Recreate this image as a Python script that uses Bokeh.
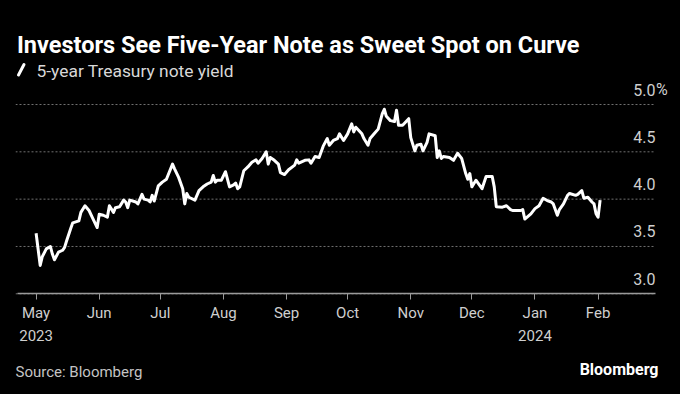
import pandas as pd
from bokeh.plotting import figure
from bokeh.models import (FixedTicker, Range1d, Label, Arrow, ColumnDataSource)
from bokeh.embed import file_html
from bokeh.resources import INLINE
from bokeh.core.properties import value

# ---------------- data ----------------
dates = [
    "2023-05-01", "2023-05-03", "2023-05-04", "2023-05-06", "2023-05-08", "2023-05-09",
    "2023-05-10", "2023-05-12", "2023-05-14", "2023-05-15", "2023-05-16", "2023-05-18",
    "2023-05-19", "2023-05-22", "2023-05-23", "2023-05-25", "2023-05-27", "2023-05-29",
    "2023-05-31", "2023-06-01", "2023-06-03", "2023-06-05", "2023-06-06", "2023-06-08",
    "2023-06-09", "2023-06-11", "2023-06-13", "2023-06-14", "2023-06-15", "2023-06-16",
    "2023-06-19", "2023-06-20", "2023-06-22", "2023-06-23", "2023-06-25", "2023-06-26",
    "2023-06-27", "2023-06-28", "2023-06-30", "2023-07-02", "2023-07-04", "2023-07-07",
    "2023-07-08", "2023-07-10", "2023-07-12", "2023-07-13", "2023-07-14", "2023-07-15",
    "2023-07-18", "2023-07-20", "2023-07-22", "2023-07-24", "2023-07-26", "2023-07-27",
    "2023-07-28", "2023-07-29", "2023-07-31", "2023-08-02", "2023-08-04", "2023-08-06",
    "2023-08-07", "2023-08-08", "2023-08-09", "2023-08-11", "2023-08-13", "2023-08-15",
    "2023-08-17", "2023-08-18", "2023-08-20", "2023-08-22", "2023-08-23", "2023-08-24",
    "2023-08-26", "2023-08-28", "2023-08-29", "2023-08-31", "2023-09-02", "2023-09-05",
    "2023-09-06", "2023-09-07", "2023-09-10", "2023-09-12", "2023-09-13", "2023-09-15",
    "2023-09-17", "2023-09-19", "2023-09-21", "2023-09-22", "2023-09-24", "2023-09-26",
    "2023-09-27", "2023-09-29", "2023-10-01", "2023-10-03", "2023-10-04", "2023-10-05",
    "2023-10-08", "2023-10-09", "2023-10-11", "2023-10-12", "2023-10-14", "2023-10-16",
    "2023-10-18", "2023-10-19", "2023-10-20", "2023-10-22", "2023-10-24", "2023-10-25",
    "2023-10-26", "2023-10-28", "2023-10-31", "2023-11-01", "2023-11-03", "2023-11-04",
    "2023-11-06", "2023-11-07", "2023-11-09", "2023-11-10", "2023-11-13", "2023-11-14",
    "2023-11-15", "2023-11-16", "2023-11-17", "2023-11-20", "2023-11-22", "2023-11-24",
    "2023-11-26", "2023-11-28", "2023-11-29", "2023-11-30", "2023-12-01", "2023-12-03",
    "2023-12-06", "2023-12-08", "2023-12-11", "2023-12-12", "2023-12-13", "2023-12-16",
    "2023-12-18", "2023-12-20", "2023-12-21", "2023-12-25", "2023-12-26", "2023-12-27",
    "2023-12-30", "2024-01-01", "2024-01-03", "2024-01-05", "2024-01-07", "2024-01-09",
    "2024-01-10", "2024-01-12", "2024-01-13", "2024-01-15", "2024-01-17", "2024-01-18",
    "2024-01-21", "2024-01-22", "2024-01-24", "2024-01-25", "2024-01-27", "2024-01-29",
    "2024-01-30", "2024-01-31", "2024-02-01", "2024-02-02",
]
yields = [
    3.64, 3.30, 3.39, 3.475, 3.50, 3.42,
    3.36, 3.44, 3.46, 3.49, 3.56, 3.69,
    3.75, 3.77, 3.86, 3.93, 3.88, 3.79,
    3.70, 3.84, 3.83, 3.81, 3.93, 3.86,
    3.91, 3.92, 3.99, 3.97, 3.91, 3.99,
    3.97, 3.95, 4.05, 4.00, 3.99, 3.97,
    4.04, 3.98, 4.14, 4.18, 4.21, 4.37,
    4.32, 4.23, 4.11, 3.95, 4.06, 4.02,
    3.99, 4.09, 4.13, 4.16, 4.18, 4.25,
    4.18, 4.20, 4.20, 4.29, 4.13, 4.15,
    4.17, 4.11, 4.13, 4.30, 4.34, 4.39,
    4.415, 4.38, 4.43, 4.50, 4.37, 4.44,
    4.41, 4.37, 4.28, 4.26, 4.31, 4.36,
    4.415, 4.38, 4.41, 4.415, 4.38, 4.45,
    4.44, 4.56, 4.64, 4.57, 4.62, 4.64,
    4.69, 4.62, 4.69, 4.795, 4.71, 4.76,
    4.69, 4.64, 4.57, 4.64, 4.69, 4.74,
    4.90, 4.95, 4.875, 4.83, 4.82, 4.94,
    4.78, 4.78, 4.85, 4.65, 4.51, 4.57,
    4.58, 4.51, 4.60, 4.69, 4.67, 4.44,
    4.51, 4.43, 4.45, 4.44, 4.41, 4.485,
    4.43, 4.27, 4.21, 4.27, 4.13, 4.20,
    4.11, 4.24, 4.24, 4.13, 3.92, 3.915,
    3.93, 3.89, 3.88, 3.88, 3.89, 3.79,
    3.845, 3.90, 3.93, 4.01, 3.985, 3.97,
    3.95, 3.83, 3.89, 3.95, 4.04, 4.06,
    4.04, 4.05, 4.09, 4.01, 4.02, 3.97,
    3.95, 3.845, 3.81, 3.99,
]
month_ticks = ["2023-05-01", "2023-06-01", "2023-07-01", "2023-08-01", "2023-09-01",
               "2023-10-01", "2023-11-01", "2023-12-01", "2024-01-01", "2024-02-01"]
month_labels = ["May\n2023", "Jun", "Jul", "Aug", "Sep", "Oct", "Nov", "Dec", "Jan\n2024", "Feb"]
y_ticks = [3.0, 3.5, 4.0, 4.5, 5.0]
y_labels = ["3.0", "3.5", "4.0", "4.5", "5.0"]
y_unit = "%"

title = "Investors See Five-Year Note as Sweet Spot on Curve"
legend_text = "5-year Treasury note yield"
source_text = "Source: Bloomberg"
brand_text = "Bloomberg"

# ---------------- layout constants ----------------
FONT = "Roboto"
W, H = 680, 394
FRAME_L, FRAME_R = 15, 674          # frame extent in canvas px
GRID_R = 653                        # right end of gridlines
AXIS_L, AXIS_R = 16.5, 655          # extent of the axis line
LABEL_R = 655                       # right edge of y tick numbers
PX_PER_DAY = 2.0362
PX_PER_PCT = 94.65
AXIS_Y = 293.3                      # canvas y of the 3.0 baseline
MAY_X = 35.6                        # canvas x of May 1

t0 = pd.Timestamp(month_ticks[0])


def x_at(px):
    return t0 + pd.Timedelta(days=(px - MAY_X) / PX_PER_DAY)


def ms(ts):
    return ts.value / 1e6


x_start, x_end = x_at(FRAME_L), x_at(FRAME_R)
y_lo = y_ticks[0] - (H - AXIS_Y) / PX_PER_PCT
y_hi = y_ticks[0] + AXIS_Y / PX_PER_PCT

p = figure(width=W, height=H, x_axis_type="datetime", y_axis_location=None,
           output_backend="svg", toolbar_location=None,
           x_range=Range1d(x_start, x_end), y_range=Range1d(y_lo, y_hi),
           min_border_left=FRAME_L, min_border_right=W - FRAME_R,
           min_border_top=0, min_border_bottom=0)
p.background_fill_color = "#000000"
p.border_fill_color = "#000000"
p.outline_line_color = None
p.xgrid.grid_line_color = None
p.ygrid.grid_line_color = None

# dotted horizontal gridlines
gsrc = ColumnDataSource(dict(x0=[x_start] * len(y_ticks), x1=[x_at(GRID_R)] * len(y_ticks),
                             y=y_ticks))
p.segment("x0", "y", "x1", "y", source=gsrc, line_color="#707070", line_width=1,
          line_dash="2 2")

tick_ms = [ms(pd.Timestamp(t)) for t in month_ticks]
ax = p.xaxis[0]
ax.fixed_location = y_ticks[0]
ax.bounds = (ms(x_at(AXIS_L)), ms(x_at(AXIS_R)))
ax.ticker = FixedTicker(ticks=tick_ms)
ax.major_label_overrides = {k: v for k, v in zip(tick_ms, month_labels)}
ax.axis_line_color = "#9a9a9a"
ax.axis_line_width = 1.5
ax.major_tick_line_color = "#9a9a9a"
ax.major_tick_out = 6
ax.major_tick_in = 0
ax.minor_tick_line_color = None
ax.major_label_text_color = "#cfcfcf"
ax.major_label_text_font = FONT
ax.major_label_text_font_size = "15px"
ax.major_label_text_line_height = 1.3
ax.major_label_standoff = 4

src = ColumnDataSource(dict(x=pd.to_datetime(dates), y=yields))
p.line("x", "y", source=src, line_color="#ffffff", line_width=3, line_join="round")

# y tick labels sitting above the gridlines; numbers right-aligned, "%" hangs out
ysrc = ColumnDataSource(dict(x=[x_at(LABEL_R)] * len(y_ticks), y=y_ticks, t=y_labels))
p.text("x", "y", text="t", source=ysrc, text_align="right", text_baseline="middle",
       y_offset=-15, text_color="#cfcfcf", text_font=value(FONT), text_font_size="16px")
usrc = ColumnDataSource(dict(x=[x_at(LABEL_R)], y=[y_ticks[-1]], t=[y_unit]))
p.text("x", "y", text="t", source=usrc, text_align="left", text_baseline="middle",
       y_offset=-15, x_offset=0.5, text_color="#cfcfcf", text_font=value(FONT),
       text_font_size="16px")

# titles and notes (screen units: x from frame left, y up from frame bottom)
p.add_layout(Label(x=1.5, y=H - 44, x_units="screen", y_units="screen", text=title,
                   text_font=FONT, text_font_style="bold", text_font_size="23.5px",
                   text_color="#ffffff", text_baseline="middle"))
p.add_layout(Arrow(x_start=3, y_start=H - 74.5, x_end=8.5, y_end=H - 64,
                   start_units="screen", end_units="screen", end=None,
                   line_color="#ffffff", line_width=3, line_cap="round"))
p.add_layout(Label(x=21, y=H - 70, x_units="screen", y_units="screen", text=legend_text,
                   text_font=FONT, text_font_size="17.4px", text_color="#d8d8d8",
                   text_baseline="middle"))
p.add_layout(Label(x=0, y=H - 371, x_units="screen", y_units="screen", text=source_text,
                   text_font=FONT, text_font_size="15px", text_color="#c4c4c4",
                   text_baseline="middle"))
p.add_layout(Label(x=658 - FRAME_L, y=H - 369, x_units="screen", y_units="screen",
                   text=brand_text, text_font=FONT, text_font_style="bold",
                   text_font_size="16px", text_color="#ffffff", text_baseline="middle",
                   text_align="right"))

html = file_html(p, INLINE)
html = html.replace("<head>", "<head><style>html,body{background:#000000;}</style>", 1)
open("out.html", "w").write(html)
